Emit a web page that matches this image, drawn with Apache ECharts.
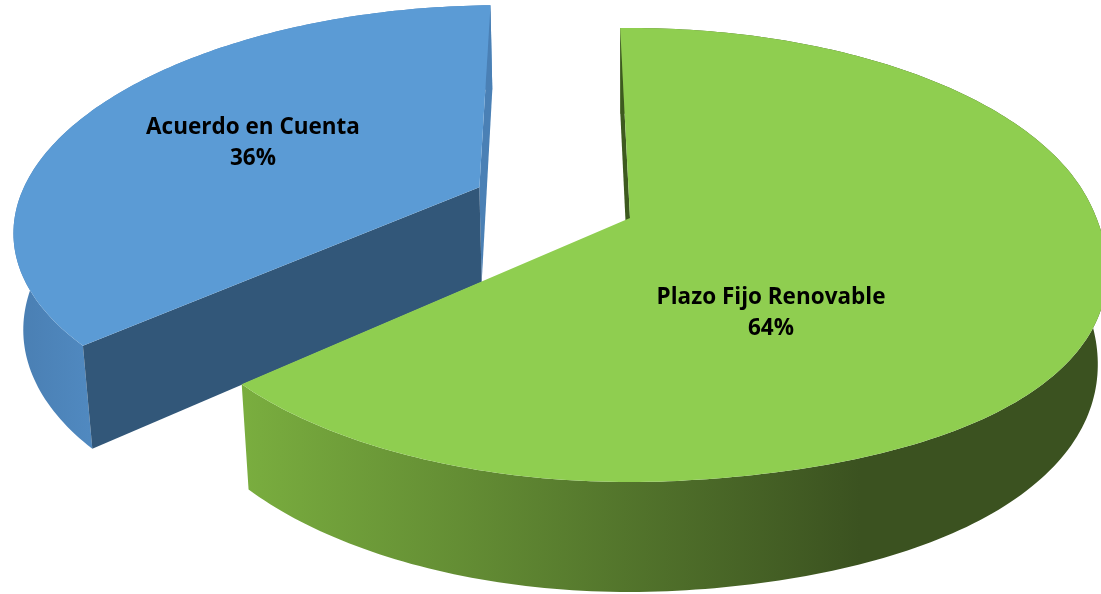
<!DOCTYPE html>
<html>
<head>
<meta charset="utf-8">
<style>
  html, body { margin: 0; padding: 0; background: #fff; }
  #chart { width: 1101px; height: 594px; }
</style>
<script src="https://cdn.jsdelivr.net/npm/echarts@6/dist/echarts.min.js"></script>
</head>
<body>
<div id="chart"></div>
<script>
var categories = ['Plazo Fijo Renovable', 'Acuerdo en Cuenta'];
var shares = [63.7, 36.3];
var explode = [0, 0.36];

// tilted disc seen in perspective
var view = { cx: 630, cy: 218, a: 466, b: 221, k: 0.163, depth: 98, shrink: 0.016, startAngle: -1.4 };
var labelAt = [[771, 313], [253, 143]];

var topColors = ['#8fce50', '#5b9bd5'];
var startFaceColors = ['#3d5a1f', '#325779'];
var endFaceColors = [null, '#4a80b5'];   // green's end face is hidden from this view
var wallStops = [
    [[240, 860], ['#7aae3f', '#3b5220']],
    [[20, 90], ['#4a7fb3', '#5089c0']]
];

var total = shares.reduce(function (s, v) { return s + v; }, 0);

function project(x, y, z) {
    var s = 1 / (1 - view.k * y + view.shrink * z);
    return [view.cx + view.a * x * s, view.cy + (view.b * y + view.depth * z) * s];
}

// the source's rim is a bit fuller on the lower right than a true circle
function fullness(deg, z) {
    if (deg <= 85 || deg >= 175) return 1;
    var bump = Math.sin((deg - 85) / 90 * Math.PI);
    return 1 + 0.035 * (1 - 0.3 * z) * bump * bump;
}

function onRim(deg, off, z) {
    var r = deg * Math.PI / 180;
    var f = fullness(deg, z);
    return project(Math.sin(r) * f + off[0], -Math.cos(r) * f + off[1], z);
}

function rim(from, to, off, z) {
    var pts = [];
    var n = Math.ceil(Math.abs(to - from));
    for (var i = 0; i <= n; i++) {
        pts.push(onRim(from + (to - from) * i / n, off, z));
    }
    return pts;
}

function renderSlice(params, api) {
    var i = params.dataIndex;
    var sweep = api.value(1) / total * 360;
    var before = 0;
    for (var j = 0; j < i; j++) before += shares[j] / total * 360;
    var from = view.startAngle + before;
    var to = from + sweep;

    var mid = (from + to) / 2 * Math.PI / 180;
    var off = [Math.sin(mid) * explode[i], -Math.cos(mid) * explode[i]];
    var apexTop = project(off[0], off[1], 0);
    var apexBottom = project(off[0], off[1], 1);
    var base = i === 0 ? 20 : 0;

    var stops = wallStops[i];
    var wallFill = new echarts.graphic.LinearGradient(stops[0][0], 0, stops[0][1], 0, [
        { offset: 0, color: stops[1][0] },
        { offset: 1, color: stops[1][1] }
    ], true);

    var children = [];
    // outer wall
    children.push({
        type: 'polygon', z2: base + 1,
        shape: { points: rim(from, to, off, 0).concat(rim(to, from, off, 1)) },
        style: { fill: wallFill }
    });
    // cut faces
    if (endFaceColors[i]) {
        children.push({
            type: 'polygon', z2: base + 2,
            shape: { points: [onRim(to, off, 0), apexTop, apexBottom, onRim(to, off, 1)] },
            style: { fill: endFaceColors[i] }
        });
    }
    children.push({
        type: 'polygon', z2: base + 3,
        shape: { points: [onRim(from, off, 0), apexTop, apexBottom, onRim(from, off, 1)] },
        style: { fill: startFaceColors[i] }
    });
    // top
    children.push({
        type: 'polygon', z2: base + 4,
        shape: { points: [apexTop].concat(rim(from, to, off, 0)) },
        style: { fill: topColors[i] }
    });
    children.push({
        type: 'text', z2: 50,
        style: {
            x: labelAt[i][0],
            y: labelAt[i][1],
            text: api.value(0) + '\n' + Math.round(api.value(1)) + '%',
            align: 'center',
            verticalAlign: 'middle',
            lineHeight: 31,
            fill: '#000',
            font: 'bold 22.5px "Open Sans"'
        }
    });
    return { type: 'group', children: children };
}

var myChart = echarts.init(document.getElementById('chart'));

var data = categories.map(function (name, i) { return [name, shares[i]]; });

myChart.setOption({
    animation: false,
    backgroundColor: '#fff',
    series: [{
        type: 'custom',
        coordinateSystem: 'none',
        silent: true,
        clip: false,
        encode: { itemName: 0, value: 1 },
        renderItem: renderSlice,
        data: data
    }]
});
</script>
</body>
</html>
